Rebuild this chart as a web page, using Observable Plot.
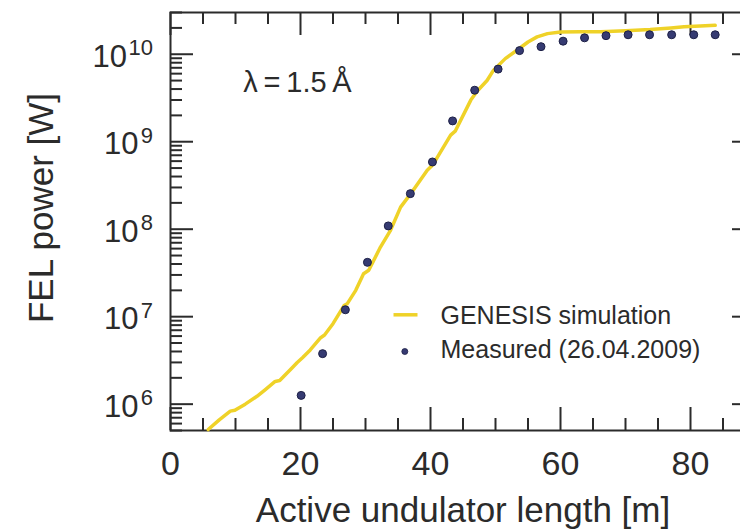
<!DOCTYPE html>
<html><head><meta charset="utf-8">
<script src="https://cdn.jsdelivr.net/npm/d3@7"></script>
<script src="https://cdn.jsdelivr.net/npm/@observablehq/plot@0.6"></script>
<style>html,body{margin:0;padding:0;background:#fff;overflow:hidden;}</style>
</head><body><div id="chart"></div>
<script>
// GENESIS simulation (active undulator length [m], FEL power [W])
const simLength = [5.8, 7.5, 9.2, 9.9, 11.5, 13.3, 14.5, 16.1, 16.8, 18.5, 19.5, 20.3, 21.5, 23.1, 23.7, 25.0, 26.7, 27.2, 28.5, 29.7, 30.5, 32.3, 33.8, 35.4, 37.2, 39.5, 40.4, 43.1, 43.8, 46.2, 47.2, 48.7, 49.7, 51.5, 53.3, 55.0, 56.4, 58.0, 60.0, 63.0, 66.2, 70.0, 73.8, 77.0, 79.0, 81.5, 83.8];
const simPower  = [5.13e5, 6.61e5, 8.32e5, 8.51e5, 1.0e6, 1.23e6, 1.45e6, 1.82e6, 1.86e6, 2.51e6, 2.99e6, 3.39e6, 4.17e6, 5.75e6, 6.17e6, 8.32e6, 1.34e7, 1.41e7, 2.0e7, 3.09e7, 3.39e7, 6.25e7, 9.55e7, 1.79e8, 2.69e8, 4.72e8, 5.5e8, 1.19e9, 1.32e9, 2.99e9, 3.8e9, 5.01e9, 6.58e9, 8.91e9, 1.11e10, 1.38e10, 1.58e10, 1.72e10, 1.8e10, 1.81e10, 1.81e10, 1.86e10, 1.92e10, 2.0e10, 2.06e10, 2.1e10, 2.14e10];
// Measured (26.04.2009)
const measLength = [20.1, 23.4, 26.9, 30.3, 33.5, 36.9, 40.3, 43.4, 46.8, 50.4, 53.7, 57.0, 60.4, 63.7, 67.0, 70.4, 73.7, 77.1, 80.5, 83.8];
const measPower  = [1.26e6, 3.78e6, 1.2e7, 4.18e7, 1.09e8, 2.55e8, 5.87e8, 1.73e9, 3.88e9, 6.76e9, 1.1e10, 1.22e10, 1.41e10, 1.54e10, 1.63e10, 1.67e10, 1.67e10, 1.67e10, 1.67e10, 1.67e10];
// Axis ticks
const xTickLabels = [0, 20, 40, 60, 80];
const xMinorTicks = [5, 10, 15, 25, 30, 35, 45, 50, 55, 65, 70, 75, 85];
const yTickExponents = [6, 7, 8, 9, 10];
const xLabel = "Active undulator length [m]";
const yLabel = "FEL power [W]";
const annotation = "λ\u2009=\u20091.5\u2009Å";
const legendLabels = ["GENESIS simulation", "Measured (26.04.2009)"];

const sim = simLength.map((x, i) => ({x, y: simPower[i]}));
const meas = measLength.map((x, i) => ({x, y: measPower[i]}));

const FONT = '"Liberation Sans", Arial, Helvetica, sans-serif';
const INK = "#2b2b2b";
const YELLOW = "#efd228";
const NAVY = "#363b72";
const W = 740, H = 529, mL = 170, mR = -15, mT = 12, mB = 99;
const innerW = W - mL - mR, innerH = H - mT - mB;
const MAJ = 23, MIN = 12;

const yMajor = yTickExponents.map(e => 10 ** e);
const yMinor = d3.scaleLog().domain([5e5, 3e10]).ticks().filter(v => !yMajor.includes(v));

const dashSymbol = {draw(ctx) { ctx.moveTo(-12, 0); ctx.lineTo(12, 0); }};

const chart = Plot.plot({
  width: W, height: H,
  marginLeft: mL, marginRight: mR, marginTop: mT, marginBottom: mB,
  style: {fontFamily: FONT, background: "#fff", color: INK},
  x: {domain: [0, 90], axis: null},
  y: {type: "log", domain: [5e5, 3e10], axis: null},
  marks: [
    // ticks (inward)
    Plot.ruleX(xTickLabels, {x: d => d, insetTop: innerH - MAJ, stroke: INK, strokeWidth: 2}),
    Plot.ruleX(xMinorTicks, {x: d => d, insetTop: innerH - MIN, stroke: INK, strokeWidth: 2}),
    Plot.ruleX(xTickLabels, {x: d => d, insetBottom: innerH - MAJ, stroke: INK, strokeWidth: 2}),
    Plot.ruleX(xMinorTicks, {x: d => d, insetBottom: innerH - MIN, stroke: INK, strokeWidth: 2}),
    Plot.ruleY(yMajor, {y: d => d, insetRight: innerW - MAJ, stroke: INK, strokeWidth: 2}),
    Plot.ruleY(yMinor, {y: d => d, insetRight: innerW - MIN, stroke: INK, strokeWidth: 2}),
    Plot.ruleY(yMajor, {y: d => d, insetLeft: innerW - MAJ, stroke: INK, strokeWidth: 2}),
    Plot.frame({stroke: INK, strokeWidth: 2}),
    // data
    Plot.line(sim, {x: "x", y: "y", stroke: YELLOW, strokeWidth: 3.5, strokeLinejoin: "round"}),
    Plot.dot(meas, {x: "x", y: "y", r: 4, fill: NAVY, stroke: "#1d2046", strokeWidth: 1}),
    // x tick labels
    Plot.text(xTickLabels, {x: d => d, frameAnchor: "bottom", dy: 44.5, lineAnchor: "bottom", text: d => String(d), fontSize: 34, fill: INK}),
    // y tick labels 10^n
    Plot.text(yTickExponents, {y: e => 10 ** e, filter: e => e >= 10, frameAnchor: "left", dx: -43.5, dy: 12.5, textAnchor: "end", lineAnchor: "bottom", text: () => "10", fontSize: 31, fill: INK}),
    Plot.text(yTickExponents, {y: e => 10 ** e, filter: e => e < 10, frameAnchor: "left", dx: -32, dy: 12.5, textAnchor: "end", lineAnchor: "bottom", text: () => "10", fontSize: 31, fill: INK}),
    Plot.text(yTickExponents, {y: e => 10 ** e, frameAnchor: "left", dx: -17.5, dy: 1, textAnchor: "end", lineAnchor: "bottom", text: e => String(e), fontSize: 22, fill: INK}),
    // axis labels
    Plot.text([xLabel], {frameAnchor: "bottom", dy: 91, lineAnchor: "bottom", fontSize: 35, fill: INK}),
    Plot.text([yLabel], {frameAnchor: "left", dx: -128.3, dy: -13.5, rotate: -90, textAnchor: "middle", lineAnchor: "middle", fontSize: 35, fill: INK}),
    // annotation
    Plot.text([annotation], {frameAnchor: "top-left", dx: 72.7, dy: 79.7, textAnchor: "start", lineAnchor: "bottom", fontSize: 29, fill: INK}),
    // legend
    Plot.dot([0], {frameAnchor: "top-left", dx: 235, dy: 302.3, symbol: dashSymbol, stroke: YELLOW, strokeWidth: 3.5, fill: "none"}),
    Plot.dot([0], {frameAnchor: "top-left", dx: 234.3, dy: 339, r: 3, fill: NAVY, stroke: "#1d2046", strokeWidth: 0.8}),
    Plot.text([legendLabels[0]], {frameAnchor: "top-left", dx: 270, dy: 311.3, textAnchor: "start", lineAnchor: "bottom", fontSize: 25, fill: INK}),
    Plot.text([legendLabels[1]], {frameAnchor: "top-left", dx: 270, dy: 345.7, textAnchor: "start", lineAnchor: "bottom", fontSize: 25, fill: INK})
  ]
});
document.getElementById("chart").appendChild(chart);
</script>
</body></html>
